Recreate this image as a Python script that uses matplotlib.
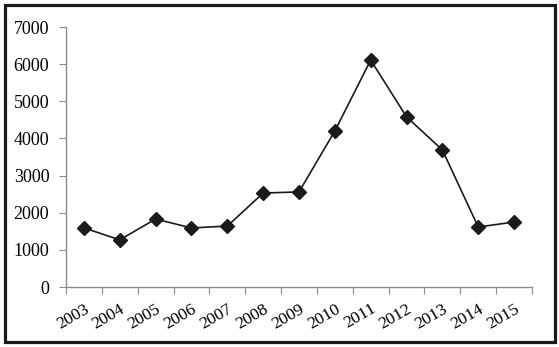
import matplotlib
matplotlib.use('Agg')
import matplotlib.pyplot as plt
import matplotlib.transforms as mtransforms
from matplotlib.patches import Rectangle
import numpy as np

# data
years = ['2003', '2004', '2005', '2006', '2007', '2008', '2009',
         '2010', '2011', '2012', '2013', '2014', '2015']
values = [1590, 1270, 1830, 1590, 1640, 2530, 2560,
          4200, 6110, 4580, 3690, 1615, 1750]
yticks = [0, 1000, 2000, 3000, 4000, 5000, 6000, 7000]

plt.rcParams['font.family'] = ['Liberation Serif', 'DejaVu Serif']

fig = plt.figure(figsize=(5.59, 3.47), dpi=100)
ax = fig.add_axes([66 / 559, 60 / 347, 466 / 559, 260 / 347])

x = np.arange(len(years))
ax.plot(x, values, color='#1a1a1a', linewidth=1.2, marker='D',
        markersize=7.5, markerfacecolor='#1a1a1a', markeredgecolor='#1a1a1a')

ax.set_xlim(-0.5, len(years) - 0.5)
ax.set_ylim(0, 7000)
ax.set_yticks(yticks)
ax.set_yticklabels([str(v) for v in yticks], fontsize=13)

# category axis: ticks between categories, labels under points
ax.set_xticks(np.arange(-0.5, len(years)), minor=False)
ax.set_xticklabels([])
ax.set_xticks(x, minor=True)
ax.set_xticklabels(years, minor=True, fontsize=12.5, rotation=30,
                   ha='right', va='top', rotation_mode='anchor')
shift = mtransforms.ScaledTranslation(-6 / 72, 0, fig.dpi_scale_trans)
for lbl in ax.get_xticklabels(minor=True):
    lbl.set_transform(lbl.get_transform() + shift)
ax.tick_params(axis='x', which='minor', length=0, pad=10)
ax.tick_params(axis='x', which='major', length=5, color='#8c8c8c', direction='out')
ax.tick_params(axis='y', length=5, color='#8c8c8c', direction='out', pad=7)

for side in ['top', 'right']:
    ax.spines[side].set_visible(False)
for side in ['left', 'bottom']:
    ax.spines[side].set_color('#8c8c8c')
    ax.spines[side].set_linewidth(1)

# outer frame
fig.patches.append(Rectangle((4.5 / 559, 5 / 347), 550 / 559, 337 / 347,
                             transform=fig.transFigure, fill=False,
                             edgecolor='#1a1a1a', linewidth=2.3))

fig.savefig('out.png', dpi=100)
